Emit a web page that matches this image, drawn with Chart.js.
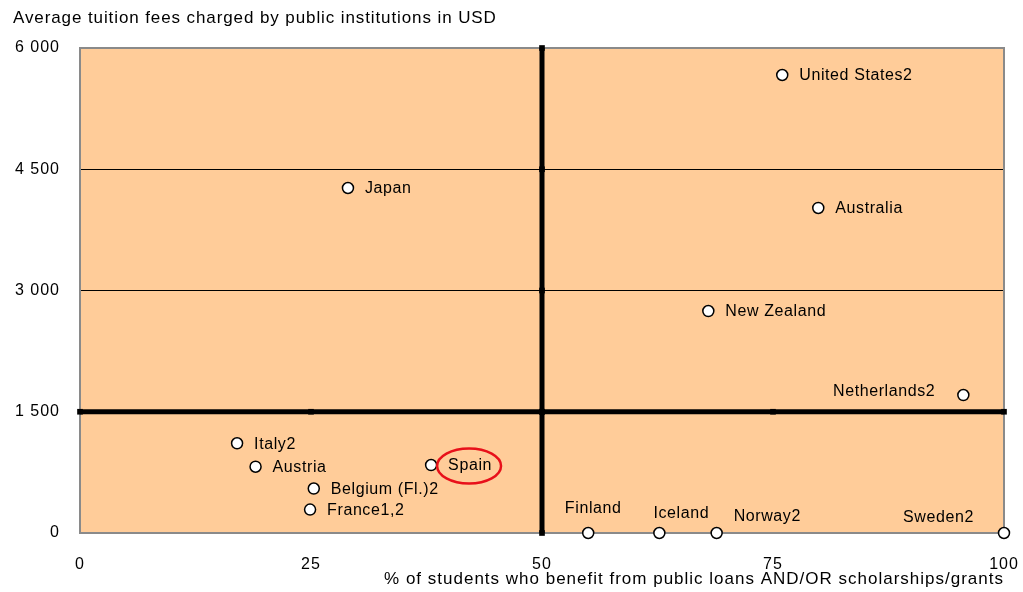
<!DOCTYPE html>
<html>
<head>
<meta charset="utf-8">
<script src="https://cdn.jsdelivr.net/npm/chart.js@4.4.1/dist/chart.umd.min.js"></script>
<style>
  html, body { margin: 0; padding: 0; background: #fff; }
  #wrap { width: 1023px; height: 592px; }
</style>
</head>
<body>
<div id="wrap"><canvas id="c"></canvas></div>
<script>
// ---- data ----
const countries = ["United States2", "Japan", "Australia", "New Zealand", "Netherlands2",
  "Italy2", "Austria", "Spain", "Belgium (Fl.)2", "France1,2",
  "Finland", "Iceland", "Norway2", "Sweden2"];
const pctBenefit = [76, 29, 79.9, 68, 95.6, 17, 19, 38, 25.3, 24.9, 55, 62.7, 68.9, 100];
const tuitionFees = [5666, 4268, 4021, 2746, 1707, 1110, 820, 841, 550, 290, 0, 0, 0, 0];

const xTicks = [0, 25, 50, 75, 100];
const yTicks = [0, 1500, 3000, 4500, 6000];
const xSplit = 50;      // vertical divider
const ySplit = 1500;    // horizontal divider

const yTitle = "Average tuition fees charged by public institutions in USD";
const xTitle = "% of students who benefit from public loans AND/OR scholarships/grants";
const highlighted = "Spain";

// label placement next to each point: [dx, dy, align]
const labelPos = {
  "Netherlands2": [-28, -3, "right"],
  "Finland": [5, -24, "center"],
  "Iceland": [22, -19, "center"],
  "Norway2": [17, -16, "left"],
  "Sweden2": [-30, -15, "right"]
};

const FONT = "'Liberation Sans', Arial, sans-serif";

const points = countries.map((c, i) => ({ x: pctBenefit[i], y: tuitionFees[i], name: c }));

// the original text is a bit letter-spaced
const spacing = chart => { chart.ctx.letterSpacing = "1px"; };

const decoPlugin = {
  id: "deco",
  beforeUpdate: spacing,
  beforeLayout: spacing,
  beforeDraw(chart) {
    spacing(chart);
    const { ctx, chartArea: a } = chart;
    ctx.save();
    ctx.fillStyle = "#FFCC99";
    ctx.fillRect(a.left, a.top, a.right - a.left, a.bottom - a.top);
    ctx.restore();
  },
  beforeDatasetsDraw(chart) {
    const { ctx, chartArea: a } = chart;
    ctx.save();
    ctx.strokeStyle = "#8a8a8a";
    ctx.lineWidth = 2;
    ctx.strokeRect(a.left, a.top, a.right - a.left, a.bottom - a.top);
    ctx.restore();
  },
  afterDraw(chart) {
    const { ctx } = chart;
    const meta = chart.getDatasetMeta(2);
    ctx.save();
    ctx.fillStyle = "#000";
    ctx.font = "16px " + FONT;
    ctx.letterSpacing = "0.6px";
    ctx.textBaseline = "middle";
    meta.data.forEach((el, i) => {
      const name = countries[i];
      const p = labelPos[name] || [17, 1, "left"];
      ctx.textAlign = p[2];
      const tx = el.x + p[0], ty = el.y + p[1];
      ctx.fillText(name, tx, ty);
      if (name === highlighted) {
        const w = ctx.measureText(name).width;
        ctx.strokeStyle = "#e8101a";
        ctx.lineWidth = 2.5;
        ctx.beginPath();
        ctx.ellipse(tx + w / 2 - 1, ty, w / 2 + 10, 17.5, 0, 0, Math.PI * 2);
        ctx.stroke();
      }
    });
    // y axis title at the top-left
    ctx.textAlign = "left";
    ctx.font = "17px " + FONT;
    ctx.letterSpacing = "0.9px";
    ctx.fillText(yTitle, 13, 18);
    ctx.restore();
  }
};

new Chart(document.getElementById("c"), {
  type: "scatter",
  data: {
    datasets: [
      {
        type: "line",
        data: xTicks.map(v => ({ x: v, y: ySplit })),
        borderColor: "#000",
        borderWidth: 5,
        pointStyle: "rect",
        pointRadius: 4,
        pointBackgroundColor: "#000",
        pointBorderWidth: 0,
        clip: false
      },
      {
        type: "line",
        data: yTicks.map(v => ({ x: xSplit, y: v })),
        borderColor: "#000",
        borderWidth: 5,
        pointStyle: "rect",
        pointRadius: 4,
        pointBackgroundColor: "#000",
        pointBorderWidth: 0,
        clip: false
      },
      {
        data: points,
        pointRadius: 5.5,
        pointBackgroundColor: "#fff",
        pointBorderColor: "#000",
        pointBorderWidth: 1.5,
        clip: false
      }
    ]
  },
  options: {
    responsive: true,
    maintainAspectRatio: false,
    animation: false,
    layout: { padding: { top: 48, right: 19, left: 0, bottom: 0 } },
    plugins: { legend: { display: false }, tooltip: { enabled: false } },
    scales: {
      x: {
        min: 0, max: 100,
        afterBuildTicks: s => { s.ticks = xTicks.map(v => ({ value: v })); },
        afterFit: s => { s.height = 59; s.paddingLeft = 0; s.paddingRight = 0; },
        grid: { display: false, drawTicks: false },
        border: { display: false },
        ticks: { color: "#000", padding: 22, font: { family: FONT, size: 16 } },
        title: {
          display: true, text: xTitle, align: "end", color: "#000",
          font: { family: FONT, size: 17 }, padding: { top: 0, bottom: 2 }
        }
      },
      y: {
        min: 0, max: 6000,
        afterBuildTicks: s => { s.ticks = yTicks.map(v => ({ value: v })); },
        afterFit: s => { s.width = 80; s.paddingTop = 0; s.paddingBottom = 0; },
        grid: {
          drawTicks: false,
          color: c => (c.tick && (c.tick.value === 0 || c.tick.value === 6000)) ? "rgba(0,0,0,0)" : "#000",
          lineWidth: 1
        },
        border: { display: false },
        ticks: {
          color: "#000", padding: 20, font: { family: FONT, size: 16 },
          callback: v => String(v).replace(/\B(?=(\d{3})+(?!\d))/g, " ")
        }
      }
    }
  },
  plugins: [decoPlugin]
});
</script>
</body>
</html>
